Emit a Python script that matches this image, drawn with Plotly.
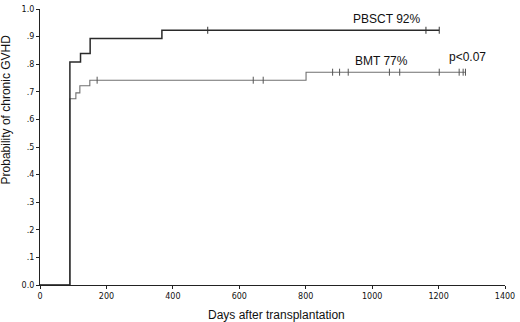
import plotly.graph_objects as go

# PBSCT step curve
pbsct_days = [0, 90, 122, 151, 367, 1202]
pbsct_prob = [0, 0.808, 0.839, 0.893, 0.923, 0.923]
pbsct_censor = [505, 1162, 1202]

# BMT step curve
bmt_days = [0, 90, 108, 120, 150, 801, 1281]
bmt_prob = [0, 0.675, 0.696, 0.722, 0.742, 0.771, 0.771]
bmt_censor = [172, 642, 672, 881, 902, 928, 1052, 1083, 1202, 1262, 1274, 1281]

x_ticks = [0, 200, 400, 600, 800, 1000, 1200, 1400]
y_ticks = [0.0, 0.1, 0.2, 0.3, 0.4, 0.5, 0.6, 0.7, 0.8, 0.9, 1.0]
y_tick_text = ["0.0", ".1", ".2", ".3", ".4", ".5", ".6", ".7", ".8", ".9", "1.0"]


def step_value(days, probs, t):
    v = probs[0]
    for d, p in zip(days, probs):
        if d <= t:
            v = p
    return v


fig = go.Figure()
fig.add_trace(go.Scatter(x=bmt_days, y=bmt_prob, mode="lines", line=dict(shape="hv", color="#707070", width=1.1),
                         showlegend=False))
fig.add_trace(go.Scatter(x=bmt_censor, y=[step_value(bmt_days, bmt_prob, t) for t in bmt_censor], mode="markers",
                         marker=dict(symbol="line-ns", size=5, line=dict(color="#555555", width=1)), showlegend=False))
fig.add_trace(go.Scatter(x=pbsct_days, y=pbsct_prob, mode="lines", line=dict(shape="hv", color="#2a2a2a", width=1.5),
                         showlegend=False))
fig.add_trace(go.Scatter(x=pbsct_censor, y=[step_value(pbsct_days, pbsct_prob, t) for t in pbsct_censor],
                         mode="markers", marker=dict(symbol="line-ns", size=5, line=dict(color="#333333", width=1)),
                         showlegend=False))

fig.add_annotation(x=1042, y=0.964, text="PBSCT 92%", showarrow=False, font=dict(size=12, color="#111"))
fig.add_annotation(x=1028, y=0.812, text="BMT 77%", showarrow=False, font=dict(size=12, color="#111"))
fig.add_annotation(x=1287, y=0.825, text="p<0.07", showarrow=False, font=dict(size=12, color="#111"))

# axis titles
fig.add_annotation(xref="paper", yref="paper", x=0, y=0.636, xshift=-34, xanchor="center", yanchor="middle",
                   textangle=-90, text="Probability of chronic GVHD", showarrow=False,
                   font=dict(size=12, color="#111"))
fig.add_annotation(x=711, yref="paper", y=0, yshift=-30, xanchor="center", yanchor="middle",
                   text="Days after transplantation", showarrow=False, font=dict(size=12, color="#111"))

fig.update_layout(
    width=520, height=322,
    margin=dict(l=40, r=11, t=5, b=37, pad=0),
    paper_bgcolor="white", plot_bgcolor="white",
    font=dict(family="Liberation Sans, Arial, sans-serif", color="#111"),
    xaxis=dict(range=[0, 1400], tickvals=x_ticks, showgrid=False, zeroline=False, showline=True,
               linecolor="#222", linewidth=1.2, ticks="outside", ticklen=3, tickcolor="#222",
               tickfont=dict(size=8, family="DejaVu Sans")),
    yaxis=dict(range=[0, 1.0], tickvals=y_ticks, ticktext=y_tick_text, showgrid=False, zeroline=False,
               showline=True, linecolor="#222", linewidth=1.2, ticks="outside", ticklen=3, tickcolor="#222",
               tickfont=dict(size=8, family="DejaVu Sans"), ticklabeloverflow="allow"),
)

fig.write_html("out.html", config={"displayModeBar": False},
               post_script="document.body.style.margin='0';")
